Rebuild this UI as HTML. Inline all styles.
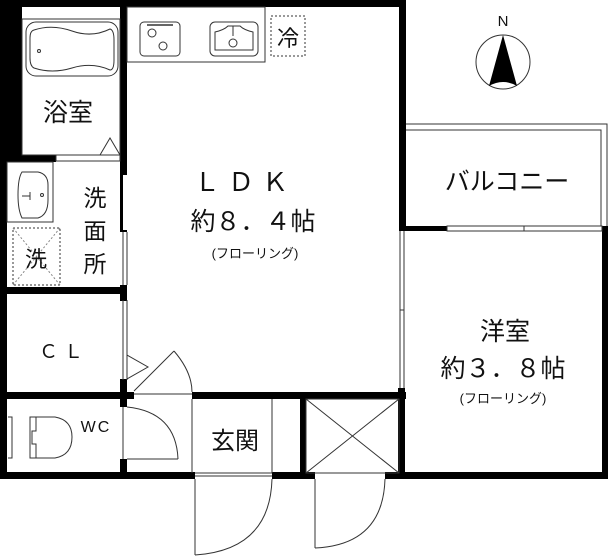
<!DOCTYPE html>
<html><head><meta charset="utf-8"><style>
html,body{margin:0;padding:0;background:#fff;width:608px;height:556px;overflow:hidden}
svg{display:block}
text{font-family:"Liberation Sans","Noto Sans CJK JP",sans-serif;fill:#111}
</style></head><body>
<svg width="608" height="556" viewBox="0 0 608 556" xmlns="http://www.w3.org/2000/svg">
<g fill="#000">
<rect x="0" y="0" width="406" height="7"/>
<rect x="0" y="0" width="22" height="155"/>
<rect x="0" y="0" width="7" height="479"/>
<rect x="120" y="0" width="7" height="175"/>
<rect x="120" y="175" width="3" height="55"/>
<rect x="120" y="230" width="7" height="2"/>
<rect x="120" y="285" width="7" height="16"/>
<rect x="0" y="155" width="56" height="7"/>
<rect x="0" y="287" width="127" height="7"/>
<rect x="0" y="392" width="134" height="7"/>
<rect x="120" y="379" width="7" height="28"/>
<rect x="192" y="392" width="214" height="7"/>
<rect x="120" y="459" width="7" height="20"/>
<rect x="0" y="472" width="195" height="7"/>
<rect x="272" y="472" width="43" height="7"/>
<rect x="385" y="472" width="223" height="7"/>
<rect x="300" y="392" width="6" height="87"/>
<rect x="399" y="0" width="7" height="230"/>
<rect x="399" y="226" width="48" height="5"/>
<rect x="398" y="388" width="7" height="91"/>
<rect x="602" y="226" width="6" height="253"/>
</g>
<g fill="none" stroke="#333" stroke-width="1">
<rect x="22" y="19" width="98" height="136"/>
<rect x="26" y="22" width="92" height="54" rx="10"/>
<path d="M34 30 Q52 24 72 31 Q92 38 110 29 Q114 30 114 40 L114 60 Q114 70 110 70 Q92 62 72 68 Q52 74 34 68 Q30 66 30 58 L30 38 Q30 31 34 30Z"/>
<circle cx="39" cy="51" r="1.5"/>
<path d="M100 155 L110 138 L120 155"/>
<rect x="56" y="155" width="64" height="6"/>
<rect x="7" y="162" width="46" height="60"/>
<path d="M22 172 L38 172 Q48 174 48 185 L48 200 Q48 215 38 218 L22 218 Q18 210 18 195 Q18 178 22 172Z"/>
<path d="M22 196 L30 196 M30 192 L30 200"/>
<circle cx="42" cy="195" r="1.5"/>
<rect x="13" y="228" width="47" height="57" stroke-dasharray="2,2"/>
<path d="M13 228 L60 285 M60 228 L13 285" stroke-dasharray="2,2" stroke="#888"/>
<line x1="123" y1="232" x2="123" y2="285"/>
<line x1="127" y1="232" x2="127" y2="285"/>
<rect x="127" y="7" width="138" height="55"/>
<rect x="140" y="22" width="40" height="34" rx="4"/>
<line x1="147" y1="25" x2="173" y2="25" stroke-width="2" stroke="#666"/>
<circle cx="152" cy="33" r="4"/><circle cx="163" cy="46" r="4"/>
<rect x="210" y="22" width="48" height="34" rx="5"/>
<path d="M215 50 L215 32 Q224 30 228 26 L240 26 Q244 30 253 32 L253 50Z"/>
<line x1="233" y1="26" x2="233" y2="36"/>
<circle cx="233" cy="43" r="4"/>
<rect x="271" y="16" width="34" height="40" stroke-dasharray="2,2"/>
<line x1="123" y1="300" x2="123" y2="380"/>
<line x1="127" y1="300" x2="127" y2="380"/>
<path d="M127 355 L148 367 L127 379"/>
<line x1="134" y1="391" x2="174" y2="351"/>
<path d="M174 351 Q192 372 192 392"/>
<line x1="134" y1="394" x2="192" y2="394"/>
<line x1="123" y1="407" x2="123" y2="459"/>
<path d="M8 417 L12 417 L12 458 L8 458"/>
<path d="M30 417 L55 417 Q72 420 72 437 Q72 455 55 458 L30 458 Z"/>
<path d="M30 417 L36 417 L36 431 L32 431 L32 444 L36 444 L36 458"/>
<line x1="127" y1="459" x2="178" y2="459"/>
<path d="M127 407 Q176 412 178 459"/>
<line x1="192" y1="399" x2="192" y2="473"/>
<line x1="272" y1="399" x2="272" y2="473"/>
<line x1="195" y1="473" x2="272" y2="473"/>
<line x1="195" y1="476" x2="272" y2="476"/>
<line x1="195" y1="479" x2="195" y2="555"/>
<path d="M195 555 Q270 550 272 479"/>
<rect x="306" y="399" width="93" height="74"/>
<path d="M306 399 L399 473 M399 399 L306 473"/>
<line x1="315" y1="473" x2="385" y2="473"/>
<line x1="315" y1="479" x2="315" y2="548"/>
<path d="M315 548 Q383 545 385 479"/>
<line x1="400" y1="231" x2="400" y2="388"/>
<line x1="404" y1="231" x2="404" y2="388"/>
<line x1="400" y1="310" x2="404" y2="310"/>
<path d="M406 124 L607 124 L607 226"/>
<path d="M406 130 L601 130 L601 226"/>
<rect x="447" y="226" width="155" height="5"/>
<line x1="524" y1="226" x2="524" y2="231"/>
<circle cx="503" cy="62" r="27"/>
</g>
<path d="M503 35 L489 86 Q503 78 517 86Z" fill="#000"/>
<text x="503" y="26" font-size="15" text-anchor="middle">N</text>
<text x="68" y="121" font-size="25" text-anchor="middle">浴室</text>
<text x="95" y="206" font-size="23" text-anchor="middle">洗</text>
<text x="95" y="239" font-size="23" text-anchor="middle">面</text>
<text x="95" y="272" font-size="23" text-anchor="middle">所</text>
<text x="36" y="267" font-size="22" text-anchor="middle">洗</text>
<text x="288" y="46" font-size="22" text-anchor="middle">冷</text>
<text x="245" y="191" font-size="26" text-anchor="middle" letter-spacing="8">ＬＤＫ</text>
<text x="253" y="230" font-size="25" text-anchor="middle">約８．４帖</text>
<text x="255" y="258" font-size="13" text-anchor="middle">(フローリング)</text>
<text x="64" y="358" font-size="19" text-anchor="middle" letter-spacing="6">ＣＬ</text>
<text x="96" y="432" font-size="16" text-anchor="middle" letter-spacing="2">WC</text>
<text x="235" y="449" font-size="24" text-anchor="middle">玄関</text>
<text x="507" y="190" font-size="25" text-anchor="middle">バルコニー</text>
<text x="505" y="340" font-size="25" text-anchor="middle">洋室</text>
<text x="503" y="377" font-size="25" text-anchor="middle">約３．８帖</text>
<text x="503" y="403" font-size="13" text-anchor="middle">(フローリング)</text>
</svg>
</body></html>
